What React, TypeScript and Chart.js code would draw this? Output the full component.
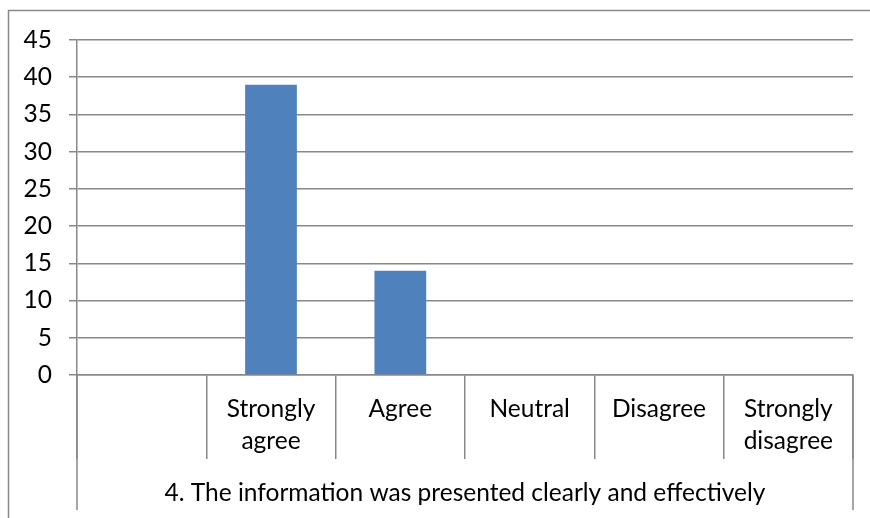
import React, { useEffect, useRef } from "react";
import { Chart, registerables } from "chart.js";

Chart.register(...registerables);

const categories: (string | string[])[] = [
  "",
  ["Strongly", "agree"],
  "Agree",
  "Neutral",
  "Disagree",
  ["Strongly", "disagree"],
];
const responses: (number | null)[] = [null, 39, 14, 0, 0, 0];
const groupLabel = "4. The information was presented clearly and effectively";
const yMin = 0;
const yMax = 45;
const yStep = 5;

const FONT = "Lato, 'Open Sans', sans-serif";
const FONT_SIZE = 24.5;
const GRID = "#888888";

const framePlugin = {
  id: "frame",
  afterDraw(chart: any) {
    const ctx = chart.ctx;
    const xs = chart.scales.x;
    ctx.save();
    ctx.strokeStyle = GRID;
    ctx.lineWidth = 1.5;
    // outer chart border
    ctx.beginPath();
    ctx.moveTo(8.5, chart.height);
    ctx.lineTo(8.5, 10.5);
    ctx.lineTo(chart.width, 10.5);
    ctx.stroke();
    // extend outer group dividers
    ctx.beginPath();
    const y0 = xs.top;
    const y1 = chart.height - 8;
    ctx.moveTo(xs.left, y0);
    ctx.lineTo(xs.left, y1);
    ctx.moveTo(xs.right, y0);
    ctx.lineTo(xs.right, y1);
    ctx.stroke();
    ctx.restore();
  },
};

export default function App() {
  const ref = useRef<HTMLCanvasElement>(null);
  useEffect(() => {
    document.body.style.margin = "0";
    const chart = new Chart(ref.current!, {
      type: "bar",
      data: {
        labels: categories,
        datasets: [
          {
            data: responses,
            backgroundColor: "#4F81BD",
            borderWidth: 0,
            categoryPercentage: 1,
            barPercentage: 0.4,
          },
        ],
      },
      options: {
        animation: false,
        responsive: false,
        devicePixelRatio: 1,
        layout: { padding: { top: 40, right: 17, left: 0, bottom: 0 } },
        plugins: {
          legend: { display: false },
          tooltip: { enabled: false },
        },
        scales: {
          x: {
            offset: true,
            grid: {
              offset: true,
              drawOnChartArea: false,
              drawTicks: true,
              tickLength: 84,
              color: GRID,
              lineWidth: 1.5,
            },
            border: { display: true, color: GRID, width: 1.5 },
            ticks: {
              color: "#000",
              padding: -66,
              maxRotation: 0,
              autoSkip: false,
              font: { family: FONT, size: FONT_SIZE, lineHeight: 32 / FONT_SIZE },
            },
            title: {
              display: true,
              text: groupLabel,
              color: "#000",
              padding: { top: 0, bottom: 10 },
              font: { family: FONT, size: FONT_SIZE, lineHeight: 1.2 },
            },
            afterFit(scale: any) {
              scale.height = 143;
            },
          },
          y: {
            min: yMin,
            max: yMax,
            grid: {
              color: GRID,
              lineWidth: 1.5,
              tickLength: 8,
            },
            border: { display: true, color: GRID, width: 1.5 },
            ticks: {
              stepSize: yStep,
              color: "#000",
              padding: 17,
              font: { family: FONT, size: FONT_SIZE },
            },
            afterFit(scale: any) {
              scale.width = 77;
            },
          },
        },
      },
      plugins: [framePlugin],
    });
    return () => chart.destroy();
  }, []);
  return (
    <div style={{ position: "absolute", left: 0, top: 0, width: 870, height: 518, background: "#fff" }}>
      <canvas ref={ref} width={870} height={518} />
    </div>
  );
}
